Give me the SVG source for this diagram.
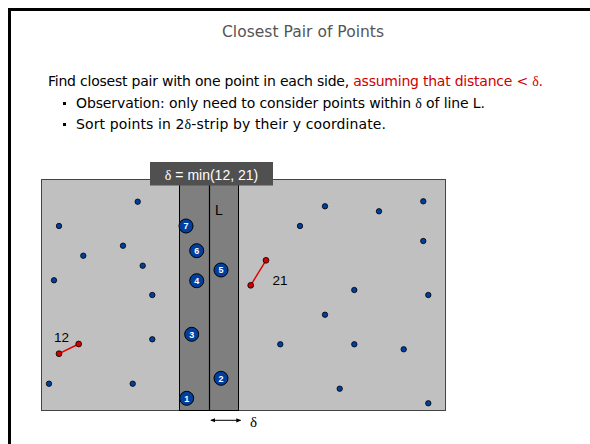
<svg xmlns="http://www.w3.org/2000/svg" width="590" height="444" viewBox="0 0 590 444">
<defs>
<style>
.t{font-family:"Liberation Sans","DejaVu Sans",sans-serif;fill:#000}
.b{font-family:"DejaVu Sans","Liberation Sans",sans-serif;fill:#000;font-size:14px}
.s{font-family:"Liberation Serif",serif}
.dot{fill:#003f9e;stroke:#000;stroke-width:0.8}
.red{fill:#d00000;stroke:#000;stroke-width:0.8}
.num circle{fill:#003f9e;stroke:#000;stroke-width:1}
.num text{font-family:"Liberation Sans",sans-serif;font-size:9px;fill:#fff;text-anchor:middle;font-weight:bold}
</style>
<marker id="ah" viewBox="0 0 6 6" refX="5" refY="3" markerWidth="5" markerHeight="5" orient="auto-start-reverse"><path d="M0,0.5L6,3L0,5.5z" fill="#000"/></marker>
</defs>
<rect width="590" height="444" fill="#fff"/>
<path d="M9.5,444V9.5H590" fill="none" stroke="#000" stroke-width="3"/>
<text class="b" x="222" y="37" style="font-size:15.5px;fill:#555" textLength="162" lengthAdjust="spacing">Closest Pair of Points</text>
<text class="b" x="48" y="86" textLength="495" lengthAdjust="spacing">Find closest pair with one point in each side, <tspan style="fill:#d00000">assuming that distance &lt; <tspan class="s">δ</tspan>.</tspan></text>
<rect x="63" y="102" width="3" height="3" fill="#000"/>
<text class="b" x="76" y="108" textLength="409" lengthAdjust="spacing">Observation:  only need to consider points within <tspan class="s">δ</tspan> of line L.</text>
<rect x="63" y="123" width="3" height="3" fill="#000"/>
<text class="b" x="76" y="129" textLength="310" lengthAdjust="spacing">Sort points in 2<tspan class="s">δ</tspan>-strip by their y coordinate.</text>

<g id="region">
<rect x="41.5" y="179.5" width="404" height="231" fill="#c0c0c0" stroke="#444" stroke-width="1"/>
<rect x="179.5" y="179.5" width="59" height="231" fill="#7f7f7f" stroke="#000" stroke-width="1"/>
<line x1="209.5" y1="179.5" x2="209.5" y2="410.5" stroke="#000" stroke-width="1.2"/>
<text class="t" x="219" y="215" font-size="14" text-anchor="middle">L</text>
</g>
<g id="label">
<rect x="150" y="162" width="123" height="23.5" fill="#505050"/>
<text class="t" x="211.5" y="180" font-size="14" text-anchor="middle" style="fill:#fff"><tspan class="s">δ</tspan> = min(12, 21)</text>
</g>

<g id="connectors">
<line x1="59" y1="353.7" x2="78.7" y2="344" stroke="#e00000" stroke-width="1.5"/>
<line x1="266" y1="260.3" x2="250.7" y2="285.3" stroke="#e00000" stroke-width="1.5"/>
<line x1="211" y1="420.3" x2="240.5" y2="420.3" stroke="#000" stroke-width="1" marker-start="url(#ah)" marker-end="url(#ah)"/>
</g>
<text class="t" x="61.5" y="342" font-size="13.5" text-anchor="middle">12</text>
<text class="t" x="280" y="285" font-size="13.5" text-anchor="middle">21</text>
<text class="s" x="253.5" y="427" font-size="15" text-anchor="middle">δ</text>

<g id="points-left">
<circle class="dot" cx="59" cy="226" r="2.7"/>
<circle class="dot" cx="137.7" cy="201.7" r="2.7"/>
<circle class="dot" cx="83.3" cy="255.7" r="2.7"/>
<circle class="dot" cx="123" cy="245.7" r="2.7"/>
<circle class="dot" cx="142.7" cy="265.7" r="2.7"/>
<circle class="dot" cx="54" cy="280.3" r="2.7"/>
<circle class="dot" cx="152.3" cy="295" r="2.7"/>
<circle class="dot" cx="152.3" cy="339.3" r="2.7"/>
<circle class="dot" cx="49" cy="383.7" r="2.7"/>
<circle class="dot" cx="132.7" cy="383.7" r="2.7"/>
<circle class="red" cx="59" cy="353.7" r="2.9"/>
<circle class="red" cx="78.7" cy="344" r="2.9"/>
</g>
<g id="points-right">
<circle class="dot" cx="325" cy="206.3" r="2.7"/>
<circle class="dot" cx="379" cy="211.3" r="2.7"/>
<circle class="dot" cx="423.3" cy="201.3" r="2.7"/>
<circle class="dot" cx="300" cy="226" r="2.7"/>
<circle class="dot" cx="423.3" cy="241" r="2.7"/>
<circle class="dot" cx="354.3" cy="290" r="2.7"/>
<circle class="dot" cx="428.3" cy="295" r="2.7"/>
<circle class="dot" cx="325" cy="314.7" r="2.7"/>
<circle class="dot" cx="280.3" cy="344.3" r="2.7"/>
<circle class="dot" cx="354.3" cy="344.3" r="2.7"/>
<circle class="dot" cx="403.7" cy="349.3" r="2.7"/>
<circle class="dot" cx="339.7" cy="388.7" r="2.7"/>
<circle class="dot" cx="428.3" cy="403.3" r="2.7"/>
<circle class="red" cx="266" cy="260.3" r="2.9"/>
<circle class="red" cx="250.7" cy="285.3" r="2.9"/>
</g>
<g id="p7" class="num"><circle cx="186" cy="226" r="7"/><text x="186" y="229.2">7</text></g>
<g id="p6" class="num"><circle cx="196.7" cy="250.7" r="7"/><text x="196.7" y="253.9">6</text></g>
<g id="p5" class="num"><circle cx="221" cy="270" r="7"/><text x="221" y="273.2">5</text></g>
<g id="p4" class="num"><circle cx="196.7" cy="280.7" r="7"/><text x="196.7" y="283.9">4</text></g>
<g id="p3" class="num"><circle cx="191.7" cy="334.3" r="7"/><text x="191.7" y="337.5">3</text></g>
<g id="p2" class="num"><circle cx="221" cy="378.3" r="7"/><text x="221" y="381.5">2</text></g>
<g id="p1" class="num"><circle cx="186.7" cy="398.3" r="7"/><text x="186.7" y="401.5">1</text></g>
</svg>
